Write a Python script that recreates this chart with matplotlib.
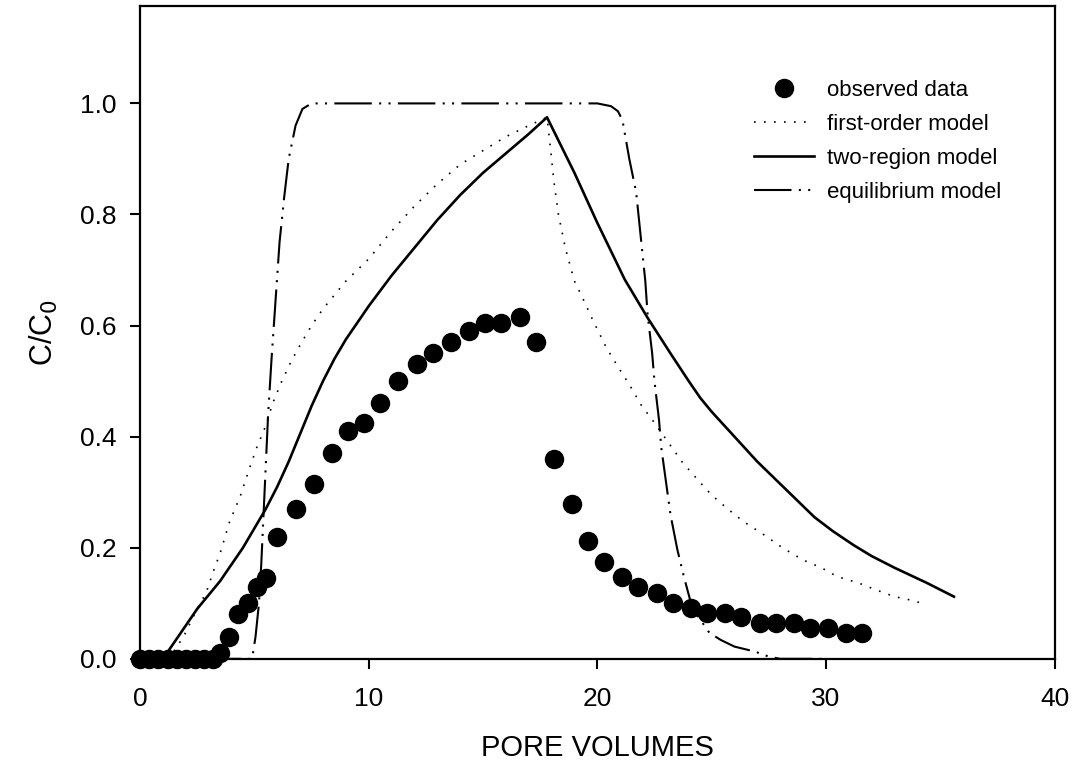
import matplotlib.pyplot as plt
import numpy as np

plt.rcParams['font.family'] = ['Liberation Sans', 'DejaVu Sans']

# observed breakthrough data
obs_x = [0.0, 0.4, 0.8, 1.2, 1.6, 2.0, 2.4, 2.8, 3.2, 3.5,
         3.9, 4.3, 4.7, 5.1, 5.5, 6.0, 6.8, 7.6, 8.4, 9.1,
         9.8, 10.5, 11.3, 12.1, 12.8, 13.6, 14.4, 15.1, 15.8, 16.6,
         17.3, 18.1, 18.9, 19.6, 20.3, 21.1, 21.8, 22.6, 23.3, 24.1,
         24.8, 25.6, 26.3, 27.1, 27.8, 28.6, 29.3, 30.1, 30.9, 31.6]
obs_y = [0.0, 0.0, 0.0, 0.0, 0.0, 0.0, 0.0, 0.0, 0.0, 0.01,
         0.04, 0.08, 0.10, 0.13, 0.145, 0.22, 0.27, 0.315, 0.37, 0.41,
         0.425, 0.46, 0.50, 0.53, 0.55, 0.57, 0.59, 0.605, 0.605, 0.615,
         0.57, 0.36, 0.278, 0.213, 0.175, 0.148, 0.13, 0.119, 0.10, 0.092,
         0.083, 0.083, 0.075, 0.064, 0.064, 0.064, 0.056, 0.056, 0.047, 0.047]

# first-order model
fo_x = [1.2, 1.5, 1.9, 2.5, 2.9, 3.2, 3.5, 3.9, 4.4, 4.8, 5.1, 5.5, 5.8, 6.2, 6.6,
        7.0, 7.5, 8.0, 8.5, 9.0, 9.5, 10.0, 11.0, 12.0, 13.0, 14.0, 15.0, 16.0, 17.0,
        17.8, 17.95, 18.1, 18.3, 18.6, 19.0, 19.3, 19.8, 20.4, 20.9, 21.4, 21.9, 22.5,
        23.1, 23.7, 24.4, 25.0, 25.7, 26.4, 27.3, 28.1, 29.0, 29.8, 30.5, 31.4, 32.2,
        33.0, 33.8, 34.2]
fo_y = [0.0, 0.015, 0.04, 0.09, 0.12, 0.157, 0.19, 0.245, 0.295, 0.345, 0.38, 0.42, 0.46, 0.50, 0.535,
        0.565, 0.60, 0.63, 0.655, 0.68, 0.70, 0.72, 0.77, 0.815, 0.855, 0.89, 0.915, 0.94, 0.96,
        0.975, 0.92, 0.86, 0.80, 0.74, 0.68, 0.655, 0.61, 0.56, 0.526, 0.494, 0.458, 0.425,
        0.39, 0.355, 0.322, 0.295, 0.27, 0.247, 0.223, 0.20, 0.178, 0.164, 0.148, 0.137, 0.124,
        0.112, 0.105, 0.10]

# two-region model
tr_x = [1.0, 1.5, 2.0, 2.5, 3.0, 3.5, 4.0, 4.5, 5.0, 5.5, 6.0, 6.5, 7.0, 7.5, 8.0, 8.5,
        9.0, 9.5, 10.0, 11.0, 12.0, 13.0, 14.0, 15.0, 16.0, 17.0, 17.8,
        19.0, 20.0, 21.2, 22.2, 23.2, 24.0, 24.5, 25.0, 26.0, 27.0, 28.0, 29.0, 29.5,
        30.3, 31.2, 32.0, 33.0, 34.4, 35.6]
tr_y = [0.0, 0.03, 0.06, 0.09, 0.115, 0.14, 0.17, 0.20, 0.235, 0.27, 0.31, 0.355, 0.405, 0.455, 0.50, 0.54,
        0.575, 0.605, 0.635, 0.69, 0.74, 0.79, 0.835, 0.875, 0.91, 0.945, 0.975,
        0.875, 0.785, 0.683, 0.614, 0.55, 0.50, 0.47, 0.445, 0.40, 0.355, 0.315, 0.275, 0.255,
        0.23, 0.205, 0.185, 0.164, 0.137, 0.112]

# equilibrium model
eq_x = [0.0, 4.9, 5.05, 5.2, 5.3, 5.4, 5.5, 5.6, 5.75, 5.9, 6.1, 6.3, 6.5, 6.8, 7.1, 7.5,
        20.0, 20.6, 20.9, 21.1, 21.25, 21.4, 21.7, 21.9, 22.1, 22.2, 22.4, 22.5, 22.7,
        22.8, 23.0, 23.2, 23.5, 23.8, 24.1, 24.35, 24.6, 24.9, 25.4, 26.0, 26.9, 27.5,
        28.0, 30.0]
eq_y = [0.0, 0.0, 0.04, 0.1, 0.17, 0.26, 0.35, 0.44, 0.54, 0.63, 0.75, 0.83, 0.90, 0.96, 0.99, 1.0,
        1.0, 0.995, 0.986, 0.97, 0.935, 0.90, 0.84, 0.76, 0.68, 0.62, 0.55, 0.50, 0.43,
        0.38, 0.32, 0.26, 0.197, 0.146, 0.10, 0.08, 0.065, 0.047, 0.034, 0.022, 0.013, 0.004,
        0.0, 0.0]

fig = plt.figure(figsize=(10.86, 7.76), dpi=100)
ax = fig.add_axes([0.129, 0.151, 0.842, 0.841])

ax.plot(obs_x, obs_y, 'o', color='black', markersize=13, clip_on=False,
        zorder=5, label='observed data')
ax.plot(fo_x, fo_y, color='black', lw=1.2, linestyle=(0, (1, 5)),
        label='first-order model')
ax.plot(tr_x, tr_y, color='black', lw=1.9, label='two-region model')
ax.plot(eq_x, eq_y, color='black', lw=1.5, linestyle=(0, (18, 3.5, 1, 3.5, 1, 3.5)),
        label='equilibrium model')

ax.set_xlim(0, 40)
ax.set_ylim(0, 1.175)
ax.set_xticks([0, 10, 20, 30, 40])
ax.set_yticks([0.0, 0.2, 0.4, 0.6, 0.8, 1.0])
ax.set_yticklabels(['0.0', '0.2', '0.4', '0.6', '0.8', '1.0'])
ax.tick_params(direction='out', length=7, width=1.5, labelsize=19)
ax.tick_params(axis='y', pad=10)
ax.tick_params(axis='x', pad=13)
for s in ax.spines.values():
    s.set_linewidth(1.6)

ax.set_xlabel('PORE VOLUMES', fontsize=21, labelpad=17)
ax.set_ylabel('C/C$_0$', fontsize=22, labelpad=14)

leg = ax.legend(loc='upper left', bbox_to_anchor=(0.671, 0.887), frameon=False,
                fontsize=16, handlelength=2.7, handletextpad=0.6,
                labelspacing=0.58, borderpad=0, borderaxespad=0)

fig.savefig('out.png', dpi=100)
